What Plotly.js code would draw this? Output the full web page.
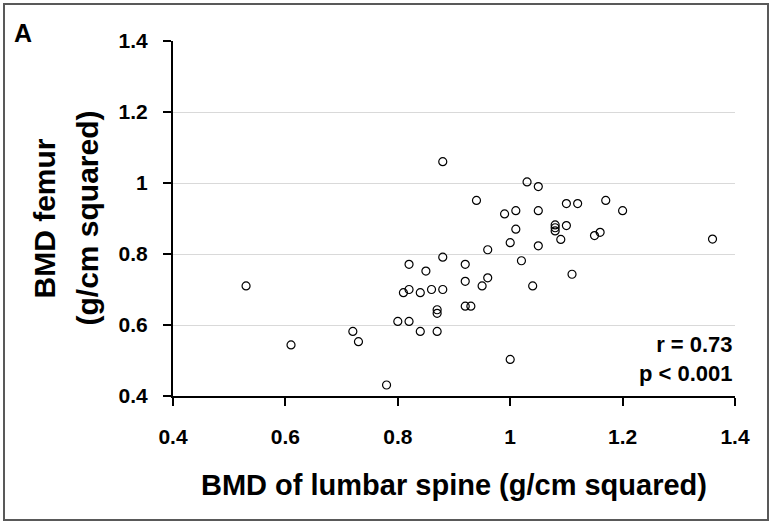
<!DOCTYPE html>
<html>
<head>
<meta charset="utf-8">
<script src="https://cdn.plot.ly/plotly-3.0.1.min.js"></script>
<style>
  html, body { margin: 0; padding: 0; background: #fff; }
  #chart { width: 772px; height: 523px; }
  #frame { position: absolute; left: 3px; top: 3px; width: 762px; height: 514px; border: 2px solid #595959; pointer-events: none; }
</style>
</head>
<body>
<div id="chart"></div>
<div id="frame"></div>
<script>
// BMD of lumbar spine (g/cm^2)
const spineBMD = [
  0.88, 0.53, 0.61, 0.72, 0.73, 0.78, 0.80, 0.82, 0.82, 0.81,
  0.82, 0.84, 0.84, 0.85, 0.86, 0.88, 0.88, 0.87, 0.87, 0.87,
  1.03, 1.05, 0.94, 0.99, 1.01, 1.05, 1.10, 1.12, 1.17, 1.20,
  1.01, 1.08, 1.08, 1.08, 1.10, 1.09, 1.15, 1.16, 1.36, 1.00,
  1.05, 0.96, 1.02, 0.92, 0.92, 0.96, 0.95, 1.04, 1.11, 0.92,
  0.93, 1.00
];
// BMD femur (g/cm^2)
const femurBMD = [
  1.06, 0.71, 0.544, 0.582, 0.553, 0.431, 0.61, 0.61, 0.771, 0.691,
  0.70, 0.691, 0.582, 0.752, 0.70, 0.791, 0.70, 0.643, 0.633, 0.582,
  1.003, 0.99, 0.951, 0.913, 0.922, 0.922, 0.942, 0.942, 0.951, 0.922,
  0.87, 0.882, 0.874, 0.865, 0.88, 0.841, 0.852, 0.861, 0.842, 0.832,
  0.823, 0.812, 0.781, 0.771, 0.723, 0.733, 0.71, 0.71, 0.743, 0.653,
  0.653, 0.503
];
const tickVals = [0.4, 0.6, 0.8, 1.0, 1.2, 1.4];
const tickText = ["0.4", "0.6", "0.8", "1", "1.2", "1.4"];
const statLines = ["r = 0.73", "p < 0.001"];
const panelLabel = "A";
const xTitle = "BMD of lumbar spine (g/cm squared)";
const yTitleLines = ["BMD femur", "(g/cm squared)"];

const FONT = "Liberation Sans, Arial, sans-serif";

const trace = {
  x: spineBMD,
  y: femurBMD,
  type: "scatter",
  mode: "markers",
  marker: { symbol: "circle-open", size: 8, color: "#000", line: { width: 1.2, color: "#000" } },
  hoverinfo: "x+y"
};

// plot area: left 173px, width 562px
const L = 173, W = 562;
const px2paper = p => (p - L) / W;

const layout = {
  width: 772,
  height: 523,
  margin: { l: L, r: 37, t: 41, b: 127 },
  paper_bgcolor: "#fff",
  plot_bgcolor: "#fff",
  showlegend: false,
  font: { family: FONT, color: "#000" },
  xaxis: {
    range: [0.4, 1.4],
    tickvals: tickVals,
    ticktext: tickText,
    showgrid: false,
    zeroline: false,
    showline: true,
    linecolor: "#000",
    linewidth: 2,
    ticks: "outside",
    ticklen: 8,
    tickwidth: 2,
    tickcolor: "#000",
    ticklabelstandoff: 13,
    tickfont: { family: FONT, size: 21, color: "#000", weight: "bold" },
    title: { text: "<b>" + xTitle + "</b>", font: { family: FONT, size: 29, color: "#000" }, standoff: 27 }
  },
  yaxis: {
    range: [0.4, 1.4],
    tickvals: tickVals,
    ticktext: tickText,
    showgrid: true,
    gridcolor: "#d9d9d9",
    gridwidth: 1,
    zeroline: false,
    showline: true,
    linecolor: "#000",
    linewidth: 2,
    ticks: "outside",
    ticklen: 8,
    tickwidth: 2,
    tickcolor: "#000",
    ticklabelstandoff: 11,
    tickfont: { family: FONT, size: 21, color: "#000", weight: "bold" }
  },
  annotations: [
    {
      text: "<b>" + statLines.join("<br>") + "</b>",
      xref: "x", yref: "y", x: 1.4, y: 0.505,
      xanchor: "right", yanchor: "middle", align: "right",
      showarrow: false,
      font: { family: FONT, size: 22, color: "#000" }
    },
    {
      text: "<b>" + panelLabel + "</b>",
      xref: "paper", yref: "paper", x: px2paper(23), y: 1 + (41 - 33) / 355,
      xanchor: "center", yanchor: "middle",
      showarrow: false,
      font: { family: FONT, size: 25, color: "#000" }
    },
    {
      text: "<b>" + yTitleLines[0] + "</b>",
      xref: "paper", yref: "paper", x: px2paper(44), y: 0.5,
      xanchor: "center", yanchor: "middle", textangle: -90,
      showarrow: false,
      font: { family: FONT, size: 30, color: "#000" }
    },
    {
      text: "<b>" + yTitleLines[1] + "</b>",
      xref: "paper", yref: "paper", x: px2paper(87), y: 0.5,
      xanchor: "center", yanchor: "middle", textangle: -90,
      showarrow: false,
      font: { family: FONT, size: 30, color: "#000" }
    }
  ]
};

Plotly.newPlot("chart", [trace], layout, { displayModeBar: false, staticPlot: true });
</script>
</body>
</html>
